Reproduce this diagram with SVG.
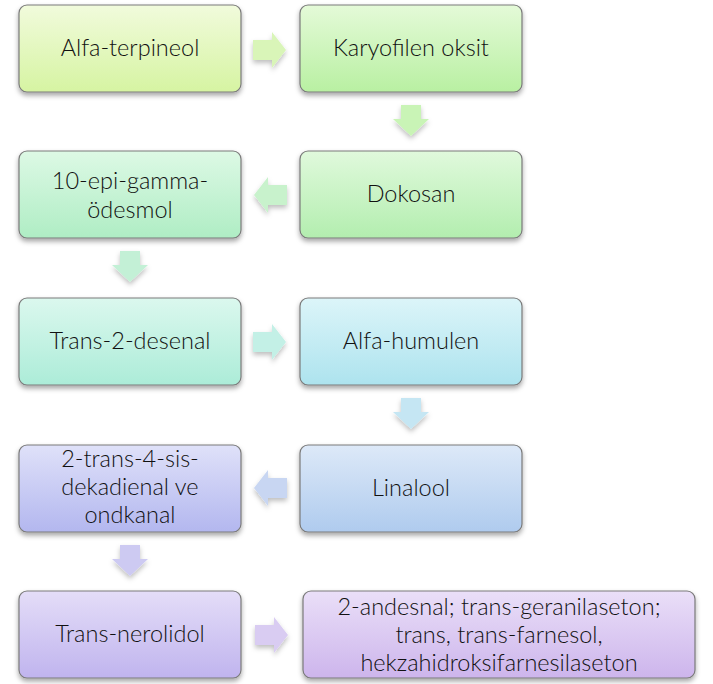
<svg xmlns="http://www.w3.org/2000/svg" width="713" height="684" viewBox="0 0 713 684">
<defs>
<filter id="sh" x="-10%" y="-10%" width="120%" height="130%">
<feDropShadow dx="0" dy="3" stdDeviation="2.5" flood-color="#000" flood-opacity="0.35"/>
</filter>
<filter id="ash" x="-30%" y="-30%" width="160%" height="170%">
<feDropShadow dx="0" dy="3" stdDeviation="2.5" flood-color="#000" flood-opacity="0.25"/>
</filter>
<linearGradient id="g1" x1="0" y1="0" x2="0" y2="1"><stop offset="0" stop-color="#f1fbdc"/><stop offset="1" stop-color="#d6f4a2"/></linearGradient>
<linearGradient id="g2" x1="0" y1="0" x2="0" y2="1"><stop offset="0" stop-color="#e4fad8"/><stop offset="1" stop-color="#b9f0a2"/></linearGradient>
<linearGradient id="g3" x1="0" y1="0" x2="0" y2="1"><stop offset="0" stop-color="#e0f9dc"/><stop offset="1" stop-color="#b3eeaf"/></linearGradient>
<linearGradient id="g4" x1="0" y1="0" x2="0" y2="1"><stop offset="0" stop-color="#ddf9e5"/><stop offset="1" stop-color="#afedc4"/></linearGradient>
<linearGradient id="g5" x1="0" y1="0" x2="0" y2="1"><stop offset="0" stop-color="#dbf8ee"/><stop offset="1" stop-color="#acecd8"/></linearGradient>
<linearGradient id="g6" x1="0" y1="0" x2="0" y2="1"><stop offset="0" stop-color="#dcf5f9"/><stop offset="1" stop-color="#ade3ee"/></linearGradient>
<linearGradient id="g7" x1="0" y1="0" x2="0" y2="1"><stop offset="0" stop-color="#dde9f8"/><stop offset="1" stop-color="#afcbee"/></linearGradient>
<linearGradient id="g8" x1="0" y1="0" x2="0" y2="1"><stop offset="0" stop-color="#dfe1f9"/><stop offset="1" stop-color="#b3b7ef"/></linearGradient>
<linearGradient id="g9" x1="0" y1="0" x2="0" y2="1"><stop offset="0" stop-color="#e4ddf8"/><stop offset="1" stop-color="#c0b4ee"/></linearGradient>
<linearGradient id="g10" x1="0" y1="0" x2="0" y2="1"><stop offset="0" stop-color="#eadff8"/><stop offset="1" stop-color="#cdb5ec"/></linearGradient>
</defs>
<style>
.n{stroke:#7a7a7a;stroke-width:1.2;filter:url(#sh)}
.t{font-family:Lato,"Open Sans","Liberation Sans",sans-serif;font-weight:300;font-size:23.5px;fill:#111;text-anchor:middle}
.a{filter:url(#ash)}
</style>
<g id="connectors">
<polygon class="a" fill="#d9f5b8" points="253,40 272,40 272,32 286,50 272,68 272,60 253,60"/>
<polygon class="a" fill="#c9f4b6" points="401,105 421,105 421,119 429,119 411,136 393,119 401,119"/>
<polygon class="a" fill="#c8f2cc" points="287,185 268,185 268,177 254,195 268,213 268,205 287,205"/>
<polygon class="a" fill="#c3f0d6" points="120,251 140,251 140,265 148,265 130,282 112,265 120,265"/>
<polygon class="a" fill="#c3f0e6" points="253,332 272,332 272,324 286,342 272,360 272,352 253,352"/>
<polygon class="a" fill="#c5e6f3" points="401,398 421,398 421,412 429,412 411,429 393,412 401,412"/>
<polygon class="a" fill="#c8d6f2" points="287,478 268,478 268,470 254,488 268,506 268,498 287,498"/>
<polygon class="a" fill="#cdcaf2" points="120,545 140,545 140,559 148,559 130,576 112,559 120,559"/>
<polygon class="a" fill="#d9ccf2" points="255,625 274,625 274,617 288,635 274,653 274,645 255,645"/>
</g>
<g id="n1"><rect class="n" x="19" y="5" width="222" height="87" rx="8" fill="url(#g1)"/><text class="t" x="130" y="56">Alfa-terpineol</text></g>
<g id="n2"><rect class="n" x="300" y="5" width="222" height="87" rx="8" fill="url(#g2)"/><text class="t" x="411" y="56">Karyofilen oksit</text></g>
<g id="n3"><rect class="n" x="300" y="151" width="222" height="87" rx="8" fill="url(#g3)"/><text class="t" x="411" y="202">Dokosan</text></g>
<g id="n4"><rect class="n" x="19" y="151" width="222" height="87" rx="8" fill="url(#g4)"/><text class="t" x="130" y="189">10-epi-gamma-</text><text class="t" x="130" y="218">ödesmol</text></g>
<g id="n5"><rect class="n" x="19" y="298" width="222" height="87" rx="8" fill="url(#g5)"/><text class="t" x="130" y="349">Trans-2-desenal</text></g>
<g id="n6"><rect class="n" x="300" y="298" width="222" height="87" rx="8" fill="url(#g6)"/><text class="t" x="411" y="349">Alfa-humulen</text></g>
<g id="n7"><rect class="n" x="300" y="445" width="222" height="87" rx="8" fill="url(#g7)"/><text class="t" x="411" y="496">Linalool</text></g>
<g id="n8"><rect class="n" x="19" y="445" width="222" height="87" rx="8" fill="url(#g8)"/><text class="t" x="130" y="467">2-trans-4-sis-</text><text class="t" x="130" y="495">dekadienal ve</text><text class="t" x="130" y="523">ondkanal</text></g>
<g id="n9"><rect class="n" x="19" y="591" width="222" height="87" rx="8" fill="url(#g9)"/><text class="t" x="130" y="642">Trans-nerolidol</text></g>
<g id="n10"><rect class="n" x="303" y="591" width="392" height="87" rx="8" fill="url(#g10)"/><text class="t" x="499" y="615">2-andesnal; trans-geranilaseton;</text><text class="t" x="499" y="643">trans, trans-farnesol,</text><text class="t" x="499" y="671">hekzahidroksifarnesilaseton</text></g>
</svg>
